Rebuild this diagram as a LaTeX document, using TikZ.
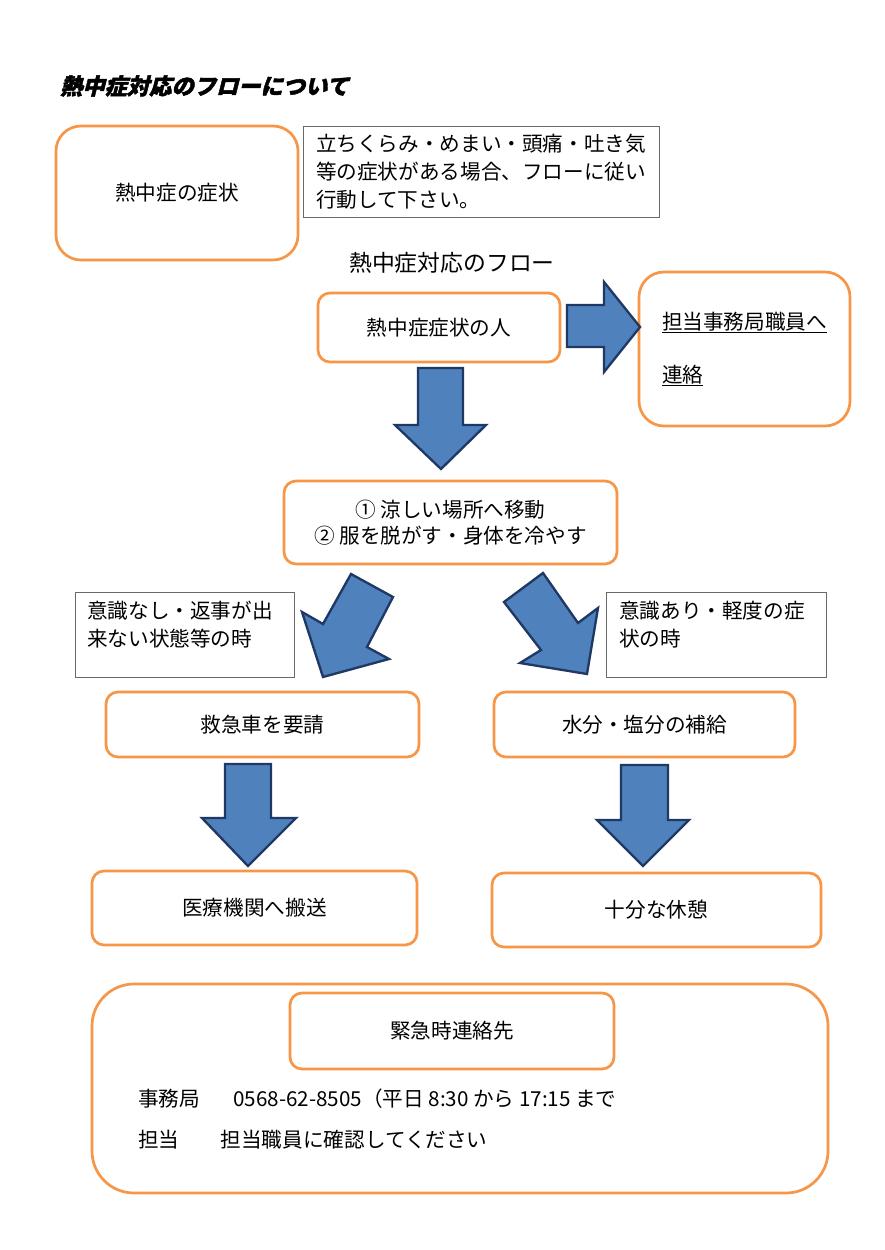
\documentclass[tikz,border=0pt]{standalone}
\usepackage{fontspec}
\usepackage{tikz}
\usetikzlibrary{positioning}
\setmainfont{Noto Sans CJK JP}
\newfontfamily\titlefont[FakeBold=2,FakeSlant=0.25]{Noto Sans CJK JP}
\definecolor{boxorange}{RGB}{247,150,70}
\definecolor{arrowblue}{RGB}{79,129,189}
\definecolor{arrowedge}{RGB}{31,56,100}
\definecolor{notegray}{RGB}{105,105,105}
\newcommand{\jpsize}{\fontsize{17.6pt}{24pt}\selectfont}

\begin{document}
\begin{tikzpicture}[x=0.3mm, y=-0.3mm,
    obox/.style={draw=boxorange, line width=2.3pt, rounded corners=3.6mm, align=center, font=\jpsize},
    notebox/.style={draw=notegray, line width=0.8pt, font=\jpsize},
    blockarrow/.style={fill=arrowblue, draw=arrowedge, line width=2pt, line join=miter}]
    \useasboundingbox[fill=white] (0,0) rectangle (884,1250);

    % Titre
    \node[font=\titlefont\bfseries\fontsize{19pt}{22pt}\selectfont, anchor=west] (title) at (56,86) {熱中症対応のフローについて};

    % === EN-TETE ===
    \node[obox, rounded corners=7.5mm, minimum width=72.6mm, minimum height=40.2mm] (symp) at (177,193) {熱中症の症状};
    \node[notebox, minimum width=106.8mm, minimum height=27.3mm, align=left] (note) at (481,171.5)
        {立ちくらみ・めまい・頭痛・吐き気\\等の症状がある場合、フローに従い\\行動して下さい。};
    \node[font=\fontsize{19.5pt}{24pt}\selectfont] (flowtitle) at (452,263) {熱中症対応のフロー};

    % === DEPART ===
    \node[obox, minimum width=72.6mm, minimum height=20.7mm] (person) at (439,327.5) {熱中症症状の人};
    \node[obox, rounded corners=7.5mm, minimum width=63.3mm, minimum height=46.2mm, align=left] (contact) at (744.5,349)
        {\underline{担当事務局職員へ}\\[21pt]\underline{連絡}};

    % Flèche vers le contact
    \draw[blockarrow] (567,305) -- (604,305) -- (604,282) -- (640,327) -- (604,372) -- (604,347) -- (567,347) -- cycle;
    % Flèche vers le bas
    \draw[blockarrow] (418,368) -- (463,368) -- (463,425) -- (486,425) -- (441,469) -- (395,425) -- (418,425) -- cycle;

    \node[obox, minimum width=99.9mm, minimum height=24.9mm, font=\fontsize{17.6pt}{22pt}\selectfont] (cool) at (450.5,522.5)
        {① 涼しい場所へ移動\\② 服を脱がす・身体を冷やす};

    % === BRANCHES ===
    \draw[blockarrow] (351,574) -- (393,597) -- (367,647) -- (389,659) -- (323,677) -- (302,612) -- (323,624) -- cycle;
    \draw[blockarrow] (543,573) -- (578,623) -- (598,608) -- (587,674) -- (520,663) -- (541,650) -- (504,602) -- cycle;

    \node[notebox, minimum width=65.7mm, minimum height=25.5mm] (cond1) at (184.5,634.5) {};
    \node[font=\jpsize, align=left, anchor=north west, inner sep=0pt] (cond1txt) at (87,601)
        {意識なし・返事が出\\来ない状態等の時};
    \node[notebox, minimum width=66mm, minimum height=25.5mm] (cond2) at (716,634.5) {};
    \node[font=\jpsize, align=left, anchor=north west, inner sep=0pt] (cond2txt) at (619,601)
        {意識あり・軽度の症\\状の時};

    % Gauche
    \node[obox, minimum width=93.9mm, minimum height=19.5mm] (ambulance) at (262.5,724.5) {救急車を要請};
    \draw[blockarrow] (225,764) -- (271,764) -- (271,818) -- (296,818) -- (248,866) -- (202,818) -- (225,818) -- cycle;
    \node[obox, minimum width=97.5mm, minimum height=22.2mm] (hospital) at (254.5,908) {医療機関へ搬送};

    % Droite
    \node[obox, minimum width=90.3mm, minimum height=19.5mm] (water) at (644.5,724.5) {水分・塩分の補給};
    \draw[blockarrow] (621,765) -- (668,765) -- (668,820) -- (689,820) -- (643,866) -- (597,820) -- (621,820) -- cycle;
    \node[obox, minimum width=98.7mm, minimum height=22.2mm] (rest) at (656.5,910) {十分な休憩};

    % === CONTACT D'URGENCE ===
    \node[obox, rounded corners=12.6mm, minimum width=220.8mm, minimum height=62.7mm] (emergency) at (460,1088.5) {};
    \node[obox, minimum width=97.2mm, minimum height=22.8mm] (emtitle) at (452,1031) {緊急時連絡先};
    \node[font=\jpsize, anchor=west, inner sep=0pt] (office) at (138,1099)
        {事務局\hspace{10mm}0568-62-8505（平日 8:30 から 17:15 まで};
    \node[font=\jpsize, anchor=west, inner sep=0pt] (staff) at (138,1140)
        {担当　　担当職員に確認してください};
\end{tikzpicture}
\end{document}
